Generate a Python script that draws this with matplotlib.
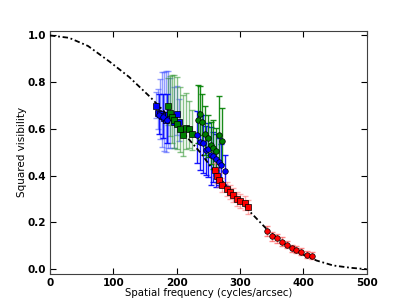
import matplotlib
matplotlib.use("Agg")
import matplotlib.pyplot as plt

# model curve
model_f = [0, 30, 60, 95, 125, 158, 180, 200, 216, 237, 263, 289, 316, 342, 368, 395, 421, 447, 475, 500]
model_v = [1.0, 0.99, 0.955, 0.886, 0.822, 0.737, 0.675, 0.615, 0.566, 0.50, 0.405, 0.325, 0.245, 0.172,
           0.112, 0.068, 0.037, 0.016, 0.006, 0.0]

# blue squares (light blue error bars)
bsq_f = [168, 171, 174, 177, 180, 183, 186, 190, 195, 200, 204]
bsq_v = [0.697, 0.67, 0.665, 0.655, 0.645, 0.64, 0.66, 0.65, 0.63, 0.663, 0.63]
bsq_lo = [0.05, 0.07, 0.11, 0.13, 0.14, 0.14, 0.14, 0.13, 0.11, 0.09, 0.08]
bsq_hi = [0.06, 0.10, 0.15, 0.19, 0.20, 0.21, 0.19, 0.17, 0.15, 0.12, 0.10]

# blue circles (dark blue error bars)
bci_f = [172, 178, 185, 232, 236, 241, 246, 250, 254, 258, 262, 266, 270, 276]
bci_v = [0.66, 0.65, 0.64, 0.575, 0.545, 0.54, 0.512, 0.515, 0.49, 0.485, 0.47, 0.46, 0.445, 0.42]
bci_lo = [0.08, 0.09, 0.10, 0.12, 0.12, 0.13, 0.11, 0.12, 0.13, 0.11, 0.12, 0.10, 0.09, 0.06]
bci_hi = [0.09, 0.10, 0.11, 0.10, 0.11, 0.12, 0.10, 0.11, 0.12, 0.10, 0.11, 0.10, 0.09, 0.07]

# green squares (light green error bars)
gsq_f = [186, 189, 192, 196, 200, 205, 210, 215, 220, 224]
gsq_v = [0.697, 0.668, 0.65, 0.64, 0.623, 0.60, 0.575, 0.605, 0.60, 0.58]
gsq_lo = [0.08, 0.10, 0.11, 0.12, 0.11, 0.10, 0.09, 0.09, 0.08, 0.07]
gsq_hi = [0.12, 0.16, 0.18, 0.19, 0.20, 0.18, 0.17, 0.15, 0.12, 0.10]

# green circles (dark green error bars)
gci_f = [234, 236, 240, 245, 250, 254, 258, 262, 266, 271]
gci_v = [0.64, 0.663, 0.63, 0.58, 0.56, 0.53, 0.52, 0.505, 0.573, 0.55]
gci_lo = [0.10, 0.09, 0.09, 0.09, 0.08, 0.08, 0.09, 0.08, 0.12, 0.10]
gci_hi = [0.15, 0.12, 0.12, 0.12, 0.10, 0.10, 0.12, 0.10, 0.17, 0.14]

# red squares
rsq_f = [260, 263, 266, 271, 279, 284, 289, 295, 300, 308, 313]
rsq_v = [0.424, 0.40, 0.38, 0.36, 0.345, 0.33, 0.317, 0.30, 0.29, 0.285, 0.265]
rsq_e = [0.03, 0.03, 0.03, 0.03, 0.03, 0.03, 0.03, 0.03, 0.03, 0.03, 0.03]

# red circles
rci_f = [342, 350, 358, 366, 374, 382, 389, 397, 405, 413]
rci_v = [0.164, 0.14, 0.132, 0.118, 0.104, 0.09, 0.083, 0.075, 0.061, 0.057]
rci_e = [0.02, 0.02, 0.02, 0.02, 0.015, 0.015, 0.015, 0.015, 0.015, 0.015]

fig = plt.figure(figsize=(4.07, 3.05), dpi=100)
ax = fig.add_axes([0.123, 0.102, 0.778, 0.797])

ax.plot(model_f, model_v, color="k", ls=(0, (3, 1.5, 1, 1.5)), lw=1.3, zorder=3)


def series(f, v, lo, hi, marker, color, ecolor, alpha):
    ax.errorbar(f, v, yerr=[lo, hi], fmt="none", ecolor=ecolor, elinewidth=1.0,
                capsize=2.5, alpha=alpha, zorder=2)
    ax.plot(f, v, marker, ls="none", ms=4, mfc=color, mec="k", mew=0.5, zorder=4)


series(bsq_f, bsq_v, bsq_lo, bsq_hi, "s", "blue", "#4c5cff", 0.6)
series(gsq_f, gsq_v, gsq_lo, gsq_hi, "s", "green", "#3a9a3a", 0.6)
series(bci_f, bci_v, bci_lo, bci_hi, "o", "blue", "blue", 0.9)
series(gci_f, gci_v, gci_lo, gci_hi, "o", "green", "green", 0.9)
series(rsq_f, rsq_v, rsq_e, rsq_e, "s", "red", "#ff6060", 0.5)
series(rci_f, rci_v, rci_e, rci_e, "o", "red", "#ff4040", 0.6)

ax.set_xlim(0, 500)
ax.set_ylim(-0.02, 1.02)
ax.set_xticks([0, 100, 200, 300, 400, 500])
ax.set_yticks([0.0, 0.2, 0.4, 0.6, 0.8, 1.0])
ax.tick_params(direction="in", top=True, right=True, length=4, labelsize=7.5, pad=3)
for lab in ax.get_xticklabels() + ax.get_yticklabels():
    lab.set_fontweight("bold")
for sp in ax.spines.values():
    sp.set_color("0.25")
ax.set_xlabel("Spatial frequency (cycles/arcsec)", fontsize=7.3, labelpad=0)
ax.set_ylabel("Squared visibility", fontsize=7.5, labelpad=0)

fig.savefig("out.png", dpi=100)
